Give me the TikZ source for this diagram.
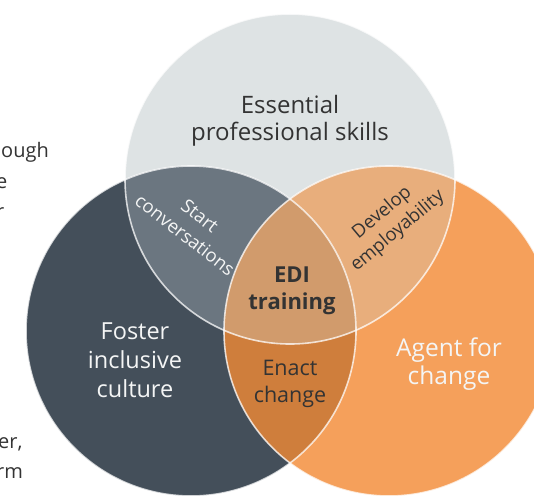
\documentclass[tikz,border=0pt]{standalone}
\usepackage{fontspec}
\setmainfont{Open Sans}
\definecolor{cgray}{HTML}{DEE3E4}
\definecolor{cdark}{HTML}{444F5A}
\definecolor{corange}{HTML}{F5A05B}
\definecolor{ctl}{HTML}{6B7680}
\definecolor{ctr}{HTML}{E8AE7C}
\definecolor{clr}{HTML}{CF7E3C}
\definecolor{ccenter}{HTML}{D19B6C}
\definecolor{ink}{HTML}{333333}
\definecolor{paper}{HTML}{F4F5F5}
\begin{document}
\begin{tikzpicture}[x=1pt,y=-1pt,
  biglbl/.style={align=center,inner sep=0pt,font=\fontsize{24}{27.5}\selectfont},
  smalllbl/.style={align=center,inner sep=0pt,font=\fontsize{18.5}{24}\selectfont},
  sidetxt/.style={anchor=base west,inner sep=0pt,text=ink,font=\fontsize{20}{24}\selectfont},
  rim/.style={draw=white,draw opacity=0.75,line width=1.6pt}]
\useasboundingbox (0,0) rectangle (534,495);
\clip (0,0) rectangle (534,495);

% circle centres
\coordinate (T) at (290,179);
\coordinate (L) at (191,331);
\coordinate (R) at (389,331);
\def\rad{165pt}

% base discs
\fill[cgray] (T) circle[radius=\rad];
\fill[cdark] (L) circle[radius=\rad];
\fill[corange] (R) circle[radius=\rad];

% pairwise overlaps
\begin{scope}
  \clip (T) circle[radius=\rad];
  \fill[ctl] (L) circle[radius=\rad];
  \fill[ctr] (R) circle[radius=\rad];
\end{scope}
\begin{scope}
  \clip (L) circle[radius=\rad];
  \fill[clr] (R) circle[radius=\rad];
\end{scope}
% triple overlap
\begin{scope}
  \clip (T) circle[radius=\rad];
  \clip (L) circle[radius=\rad];
  \fill[ccenter] (R) circle[radius=\rad];
\end{scope}

% rims
\path[rim] (T) circle[radius=\rad];
\path[rim] (L) circle[radius=\rad];
\path[rim] (R) circle[radius=\rad];

% labels
\node[biglbl,text=ink] (skills) at (290,121) {Essential\\professional skills};
\node[biglbl,text=paper,font=\fontsize{23.5}{29}\selectfont] (foster) at (135,360) {Foster\\inclusive\\culture};
\node[biglbl,text=paper,font=\fontsize{24.5}{28}\selectfont] (agent) at (449,364) {Agent for\\change};
\node[biglbl,text=ink,font=\fontsize{22}{27}\selectfont\bfseries] (edi) at (292,291) {EDI\\training};
\node[biglbl,text=ink,font=\fontsize{21.5}{27}\selectfont] (enact) at (290,384) {Enact\\change};
\node[smalllbl,text=paper,rotate=-38] (start) at (192.5,225.5) {Start\\conversations};
\node[smalllbl,text=ink,rotate=40] (develop) at (390,222) {Develop\\employability};

% running text at the left edge
\node[sidetxt] (s1) at (1,157) {ough};
\node[sidetxt] (s2) at (-4,188) {e};
\node[sidetxt] (s3) at (-4,218) {r};
\node[sidetxt] (s4) at (-2,448) {er,};
\node[sidetxt] (s5) at (-4,478) {rm};
\end{tikzpicture}
\end{document}
